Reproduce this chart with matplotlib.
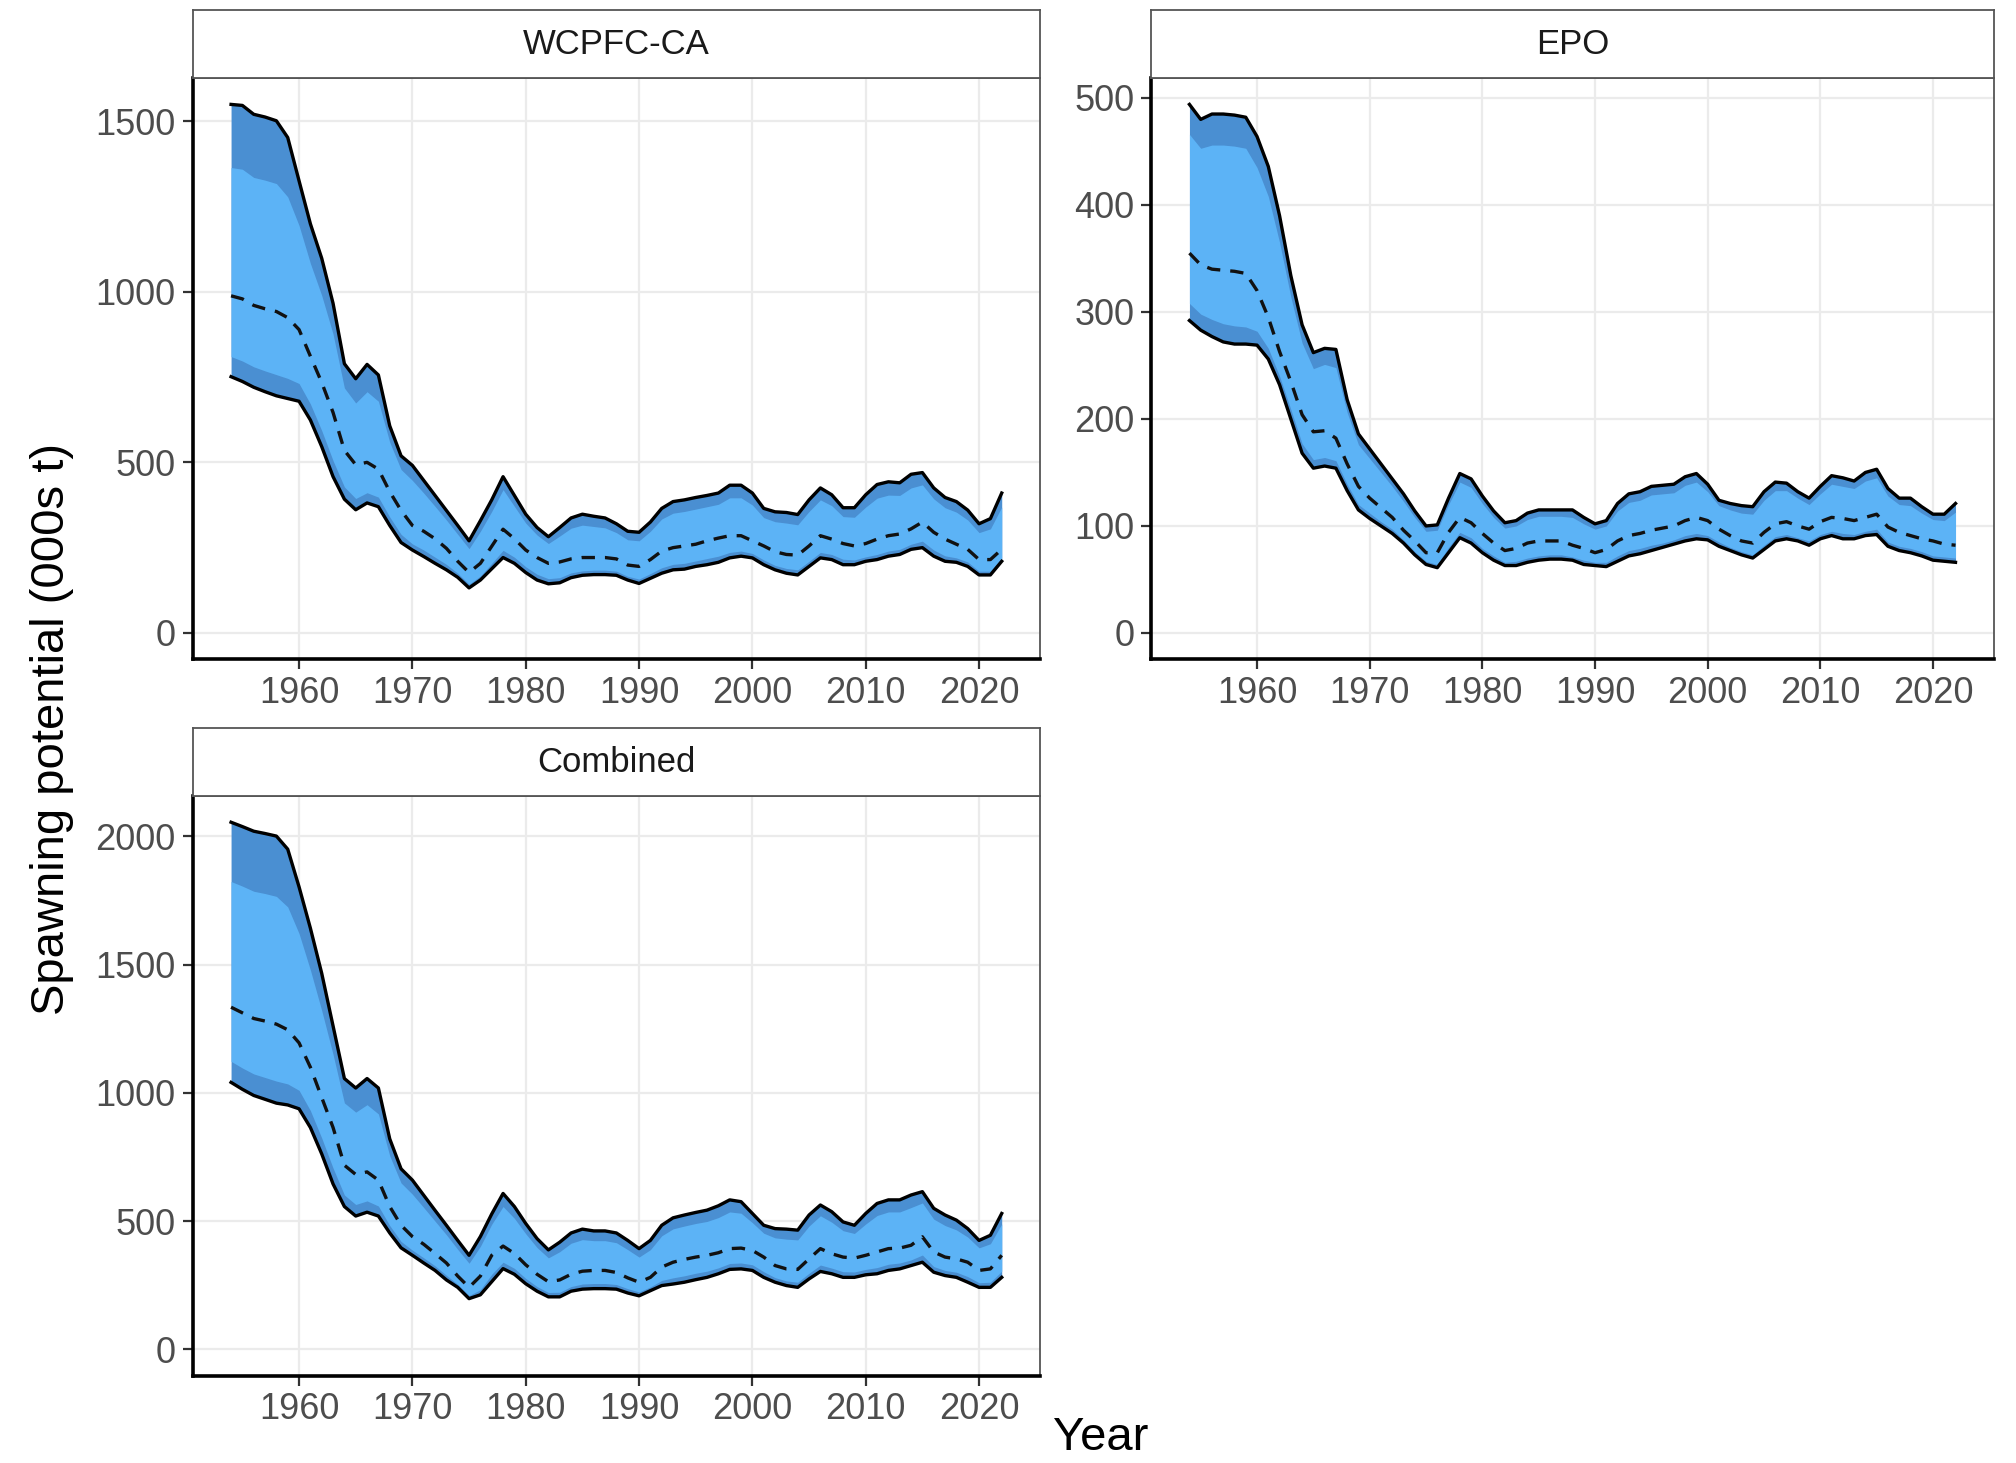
import matplotlib
matplotlib.use("Agg")
import matplotlib.pyplot as plt

plt.rcParams['font.family'] = ['Liberation Sans', 'DejaVu Sans']

years = list(range(1954, 2023))

# WCPFC-CA
wcp_up = [1549, 1546, 1520, 1512, 1501, 1452, 1325, 1199, 1098, 966, 789, 745, 787, 756, 607, 519, 491, 447, 403, 359,
          315, 270, 329, 390, 458, 403, 348, 309, 282, 309, 337, 348, 342, 337, 320, 298, 295, 325, 365, 385,
          390, 397, 403, 410, 433, 433, 410, 365, 355, 353, 347, 390, 425, 405, 367, 367, 405, 435, 443, 440,
          465, 470, 425, 397, 385, 360, 320, 335, 410]
wcp_hi = [1364, 1359, 1335, 1327, 1317, 1278, 1194, 1083, 989, 876, 718, 674, 707, 679, 559, 479, 447, 410, 371, 331,
          289, 247, 298, 356, 420, 371, 322, 287, 262, 284, 307, 316, 312, 308, 294, 273, 270, 298, 334, 351,
          356, 363, 370, 377, 396, 396, 375, 338, 326, 322, 317, 356, 390, 373, 341, 339, 369, 395, 404, 403,
          425, 434, 393, 367, 354, 331, 294, 305, 369]
wcp_med = [988, 979, 960, 950, 942, 924, 889, 811, 734, 646, 535, 493, 500, 480, 414, 359, 315, 298, 276, 248,
           210, 177, 204, 254, 304, 276, 243, 221, 204, 208, 217, 221, 221, 221, 217, 199, 195, 215, 240, 250,
           255, 260, 270, 278, 285, 285, 270, 255, 238, 230, 228, 255, 285, 275, 262, 255, 262, 275, 285, 290,
           305, 325, 295, 275, 260, 245, 215, 215, 245]
wcp_lo_in = [810, 797, 780, 768, 757, 746, 731, 671, 593, 505, 428, 394, 411, 398, 340, 289, 261, 243, 222, 201,
             175, 143, 167, 204, 242, 222, 194, 172, 159, 162, 176, 182, 184, 184, 181, 166, 158, 174, 191, 201,
             204, 211, 218, 225, 236, 240, 233, 214, 198, 189, 185, 210, 236, 230, 216, 214, 223, 230, 240, 245,
             260, 269, 243, 226, 220, 208, 181, 181, 219]
wcp_lo = [751, 737, 720, 707, 695, 687, 679, 624, 546, 458, 392, 361, 381, 370, 315, 265, 243, 224, 204, 185,
          163, 132, 155, 188, 221, 204, 177, 155, 144, 147, 162, 169, 171, 171, 169, 155, 145, 160, 175, 185,
          187, 195, 200, 207, 220, 225, 220, 200, 185, 175, 170, 195, 220, 215, 200, 200, 210, 215, 225, 230,
          245, 250, 225, 210, 207, 195, 170, 170, 210]

# EPO
epo_up = [494, 480, 485, 485, 484, 482, 464, 436, 390, 334, 288, 262, 266, 265, 218, 186, 172, 158, 144, 130,
          114, 100, 101, 126, 149, 144, 128, 114, 103, 105, 112, 115, 115, 115, 115, 108, 102, 105, 121, 130,
          132, 137, 138, 139, 146, 149, 139, 124, 121, 119, 118, 132, 141, 140, 132, 126, 137, 147, 145, 142,
          150, 153, 135, 126, 126, 118, 111, 111, 121]
epo_hi = [466, 453, 456, 456, 455, 453, 435, 408, 365, 314, 271, 247, 251, 248, 206, 176, 163, 150, 137, 123,
          108, 95, 96, 120, 141, 136, 121, 108, 98, 100, 106, 109, 109, 109, 108, 102, 97, 100, 114, 122,
          124, 129, 130, 131, 138, 141, 132, 119, 115, 112, 111, 124, 133, 133, 126, 120, 130, 139, 137, 135,
          142, 145, 128, 120, 119, 112, 106, 105, 113]
epo_med = [355, 344, 340, 339, 338, 336, 320, 295, 263, 235, 204, 188, 189, 182, 158, 137, 126, 117, 108, 96,
           86, 75, 75, 94, 108, 103, 93, 84, 77, 79, 84, 86, 86, 86, 82, 79, 75, 78, 86, 91,
           93, 96, 98, 100, 105, 108, 105, 97, 91, 86, 84, 94, 102, 104, 100, 97, 104, 108, 107, 105,
           108, 111, 99, 94, 91, 88, 86, 83, 82]
epo_lo_in = [308, 298, 293, 289, 287, 286, 282, 266, 240, 209, 177, 162, 164, 161, 139, 120, 112, 104, 97, 87,
             76, 67, 64, 80, 94, 89, 79, 72, 66, 67, 70, 72, 73, 73, 71, 68, 66, 66, 72, 77,
             79, 82, 84, 87, 91, 93, 91, 85, 80, 76, 73, 82, 90, 92, 89, 86, 92, 95, 93, 92,
             95, 97, 85, 81, 79, 76, 72, 71, 70]
epo_lo = [292, 283, 277, 272, 270, 270, 269, 256, 232, 200, 168, 154, 156, 154, 133, 115, 107, 100, 93, 84,
          73, 64, 61, 75, 89, 84, 75, 68, 63, 63, 66, 68, 69, 69, 68, 64, 63, 62, 67, 72,
          74, 77, 80, 83, 86, 88, 87, 81, 77, 73, 70, 78, 86, 88, 86, 82, 88, 91, 88, 88,
          91, 92, 81, 77, 75, 72, 68, 67, 66]

# Combined
com_up = [2055, 2038, 2020, 2011, 2001, 1950, 1803, 1642, 1466, 1261, 1056, 1019, 1056, 1019, 821, 704, 660, 601, 542, 484,
          425, 367, 440, 528, 608, 557, 491, 432, 388, 418, 454, 469, 462, 462, 454, 425, 393, 425, 484, 513,
          524, 534, 543, 560, 583, 576, 530, 484, 471, 469, 465, 524, 563, 537, 497, 484, 530, 569, 583, 583,
          602, 615, 550, 524, 504, 471, 425, 445, 530]
com_hi = [1824, 1806, 1786, 1777, 1766, 1725, 1621, 1479, 1321, 1150, 961, 925, 954, 918, 755, 649, 605, 553, 500, 447,
          390, 336, 402, 488, 557, 511, 451, 397, 357, 381, 414, 428, 424, 424, 416, 389, 360, 389, 443, 470,
          481, 491, 499, 514, 536, 531, 494, 453, 435, 430, 427, 481, 521, 496, 463, 452, 489, 522, 536, 536,
          553, 571, 508, 483, 466, 438, 396, 412, 489]
com_med = [1334, 1312, 1290, 1280, 1268, 1246, 1195, 1100, 982, 865, 718, 682, 692, 660, 557, 484, 440, 410, 374, 337,
           286, 242, 286, 367, 403, 374, 330, 293, 264, 271, 293, 305, 308, 308, 300, 279, 262, 281, 321, 340,
           351, 360, 367, 377, 393, 395, 386, 360, 327, 314, 312, 353, 393, 373, 360, 356, 367, 380, 393, 395,
           406, 439, 380, 360, 353, 340, 308, 314, 367]
com_lo_in = [1123, 1097, 1074, 1060, 1046, 1035, 1010, 931, 824, 707, 602, 565, 579, 559, 483, 421, 387, 357, 326, 289,
             254, 210, 233, 293, 340, 316, 277, 245, 222, 223, 245, 255, 257, 257, 253, 237, 224, 244, 269, 279,
             287, 297, 305, 318, 335, 337, 330, 303, 280, 267, 262, 297, 329, 317, 303, 302, 312, 319, 332, 337,
             349, 368, 323, 308, 301, 284, 260, 262, 305]
com_lo = [1041, 1014, 990, 975, 960, 953, 938, 865, 762, 645, 557, 520, 535, 520, 454, 396, 367, 337, 308, 271,
          242, 198, 213, 264, 315, 293, 256, 227, 205, 205, 227, 235, 237, 237, 235, 220, 209, 229, 249, 255,
          262, 272, 281, 295, 312, 314, 308, 281, 262, 249, 242, 275, 304, 295, 281, 281, 291, 295, 308, 314,
          327, 340, 301, 288, 281, 262, 242, 242, 281]

panels = [
    ("WCPFC-CA", [0, 500, 1000, 1500], (wcp_up, wcp_hi, wcp_med, wcp_lo_in, wcp_lo)),
    ("EPO", [0, 100, 200, 300, 400, 500], (epo_up, epo_hi, epo_med, epo_lo_in, epo_lo)),
    ("Combined", [0, 500, 1000, 1500, 2000], (com_up, com_hi, com_med, com_lo_in, com_lo)),
]

# panel rectangles [left, bottom, width, height] in figure fractions
boxes = [
    [0.0955, 0.5493, 0.4205, 0.3974],
    [0.5710, 0.5493, 0.4180, 0.3974],
    [0.0955, 0.0596, 0.4205, 0.3964],
]
strip_h = 0.0462

dark = '#4A8FD2'
light = '#5CB3F6'
grid_c = '#EBEBEB'
tick_c = '#4D4D4D'

fig = plt.figure(figsize=(20.16, 14.63), dpi=100)
fig.patch.set_facecolor('white')

for (name, yt, series), box in zip(panels, boxes):
    up, hi, med, lo_in, lo = series
    ax = fig.add_axes(box)
    ax.fill_between(years, lo, up, color=dark, lw=0, zorder=2)
    ax.fill_between(years, lo_in, hi, color=light, lw=0, zorder=3)
    ax.plot(years, up, color='black', lw=2.4, zorder=4)
    ax.plot(years, lo, color='black', lw=2.4, zorder=4)
    ax.plot(years, med, color='#111111', lw=2.4, ls=(0, (4, 3)), zorder=5)

    span = years[-1] - years[0]
    ax.set_xlim(years[0] - 0.05 * span, years[-1] + 0.05 * span)
    ymin = min(0, min(lo))
    ymax = max(up)
    yr = ymax - ymin
    ax.set_ylim(ymin - 0.05 * yr, ymax + 0.05 * yr)

    ax.set_xticks([1960, 1970, 1980, 1990, 2000, 2010, 2020])
    ax.set_yticks(yt)
    ax.grid(True, color=grid_c, lw=1.6, zorder=0)
    ax.set_axisbelow(True)
    ax.tick_params(axis='both', direction='out', length=7, width=1.6, color='#333333',
                   labelsize=26, labelcolor=tick_c, pad=5)
    for s in ['left', 'bottom']:
        ax.spines[s].set_color('black')
        ax.spines[s].set_linewidth(2.6)
    for s in ['top', 'right']:
        ax.spines[s].set_color('#555555')
        ax.spines[s].set_linewidth(1.3)

    sx = fig.add_axes([box[0], box[1] + box[3], box[2], strip_h])
    sx.set_xticks([])
    sx.set_yticks([])
    sx.set_facecolor('white')
    for s in sx.spines.values():
        s.set_color('#555555')
        s.set_linewidth(1.3)
    sx.text(0.5, 0.5, name, ha='center', va='center', fontsize=25, color='#1A1A1A',
            transform=sx.transAxes)

fig.text(0.026, 0.502, 'Spawning potential (000s t)', rotation=90, ha='center', va='center',
         fontsize=34, color='black')
fig.text(0.546, 0.002, 'Year', ha='center', va='bottom', fontsize=34, color='black')

fig.savefig('out.png', dpi=100, facecolor='white')
